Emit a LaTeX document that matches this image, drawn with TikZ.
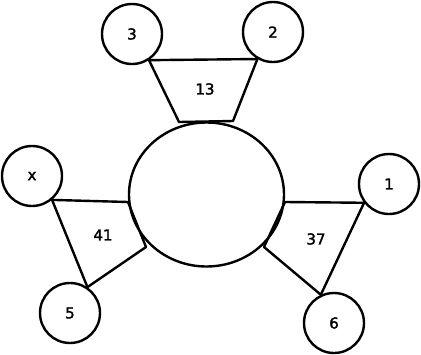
\documentclass[tikz,border=0pt]{standalone}
\usepackage{fontspec}
\setmainfont{DejaVu Sans}
\newfontfamily\lblfont{DejaVu Sans}[FakeBold=2]
\usetikzlibrary{shapes.geometric}
\begin{document}
\begin{tikzpicture}[x=1pt,y=-1pt,
  ln/.style={line width=2.4pt, line join=round},
  small/.style={circle, draw, line width=2.4pt, minimum size=60pt, inner sep=0pt, font=\lblfont\fontsize{15}{17}\selectfont},
  big/.style={ellipse, draw, line width=2.4pt, minimum width=155pt, minimum height=144pt, inner sep=0pt},
  lbl/.style={font=\lblfont\fontsize{15}{17}\selectfont, inner sep=0pt}]
\useasboundingbox (0,0) rectangle (421,354);
\node[big] (c) at (206.5,194.5) {};
\node[small] (n3) at (132,34) {3};
\node[small] (n2) at (273,32) {2};
\node[small] (nx) at (32,176) {x};
\node[small] (n5) at (70,313) {5};
\node[small] (n1) at (389,184) {1};
\node[small] (n6) at (334,323) {6};
\coordinate (t1) at (179,122);
\coordinate (t2) at (233,121);
\coordinate (l1) at (128,202);
\coordinate (l2) at (146,247);
\coordinate (r1) at (285,202);
\coordinate (r2) at (264,247);
\draw[ln] (t1) -- (n3.-57) -- (n2.-120) -- (t2) -- cycle;
\draw[ln] (l1) -- (nx.-50) -- (n5.56) -- (l2) -- cycle;
\draw[ln] (r1) -- (n1.-143) -- (n6.115) -- (r2) -- cycle;
\node[lbl] (a13) at (205,89) {13};
\node[lbl] (a41) at (103,235) {41};
\node[lbl] (a37) at (316,239) {37};
\end{tikzpicture}
\end{document}
